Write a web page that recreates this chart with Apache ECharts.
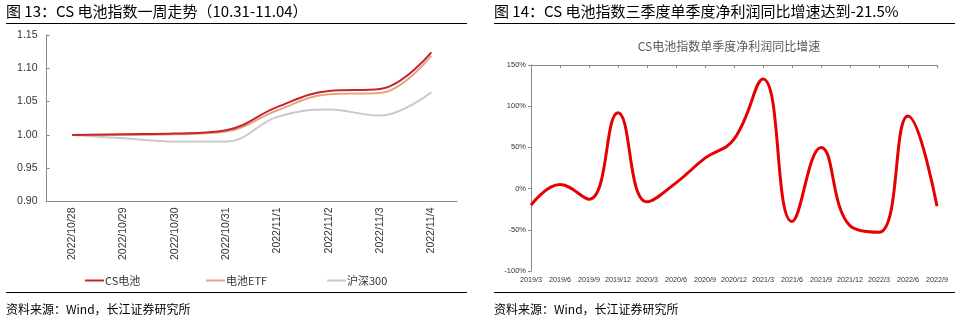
<!DOCTYPE html>
<html><head><meta charset="utf-8">
<script src="https://cdn.jsdelivr.net/npm/echarts@6/dist/echarts.min.js"></script>
<style>html,body{margin:0;padding:0;background:#fff}#c{width:962px;height:331px}</style>
</head><body><div id="c"></div>
<script>
// Chart 1 data
const dates = ['2022/10/28','2022/10/29','2022/10/30','2022/10/31','2022/11/1','2022/11/2','2022/11/3','2022/11/4'];
const csBattery = [1.000, 1.001, 1.002, 1.007, 1.042, 1.066, 1.069, 1.124];
const batteryETF = [1.000, 1.000, 1.001, 1.005, 1.037, 1.061, 1.063, 1.119];
const hs300 = [1.000, 0.995, 0.990, 0.990, 1.027, 1.038, 1.029, 1.064];
const yTicks1 = {min: 0.90, max: 1.15, interval: 0.05};

// Chart 2 data
const quarters = ['2019/3','2019/6','2019/9','2019/12','2020/3','2020/6','2020/9','2020/12','2021/3','2021/6','2021/9','2021/12','2022/3','2022/6','2022/9'];
const profitYoY = [-20, 5, -13, 92, -16, 7, 37, 60, 133, -40, 50, -45, -53, 88, -21.5];
const yTicks2 = {min: -100, max: 150, interval: 50};

const title1 = '图 13：CS 电池指数一周走势（10.31-11.04）';
const title2 = '图 14：CS 电池指数三季度单季度净利润同比增速达到-21.5%';
const innerTitle2 = 'CS电池指数单季度净利润同比增速';
const source = '资料来源：Wind，长江证券研究所';

const chart = echarts.init(document.getElementById('c'));
const cjk = '"Noto Sans CJK SC", "Liberation Sans", sans-serif';
const lab = '"Liberation Sans", "Noto Sans CJK SC", sans-serif';
const axisGray = '#898989';

chart.setOption({
  animation: false,
  textStyle: {fontFamily: lab},
  title: [{
    text: innerTitle2, left: 724, top: 35, textAlign: 'center',
    textStyle: {fontSize: 12, fontWeight: 'normal', color: '#595959', fontFamily: cjk}
  }],
  graphic: [
    {type: 'text', left: 6, top: 4, style: {text: title1, font: '15px ' + cjk, fill: '#000'}},
    {type: 'text', left: 494, top: 4, style: {text: title2, font: '15px ' + cjk, fill: '#000'}},
    {type: 'line', shape: {x1: 6, y1: 23.5, x2: 467, y2: 23.5}, style: {stroke: '#000', lineWidth: 1}},
    {type: 'line', shape: {x1: 494, y1: 23.5, x2: 955, y2: 23.5}, style: {stroke: '#000', lineWidth: 1}},
    {type: 'line', shape: {x1: 6, y1: 292.5, x2: 467, y2: 292.5}, style: {stroke: '#000', lineWidth: 1}},
    {type: 'line', shape: {x1: 494, y1: 292.5, x2: 955, y2: 292.5}, style: {stroke: '#000', lineWidth: 1}},
    {type: 'text', left: 6, top: 303, style: {text: source, font: '12px ' + cjk, fill: '#000'}},
    {type: 'text', left: 494, top: 303, style: {text: source, font: '12px ' + cjk, fill: '#000'}}
  ],
  legend: [
    {data: ['CS电池'], left: 80, top: 270, itemWidth: 19, itemHeight: 2, icon: 'rect', itemGap: 0,
     textStyle: {fontSize: 11, color: '#333', fontFamily: cjk, padding: [0,0,0,-4]}},
    {data: ['电池ETF'], left: 201, top: 270, itemWidth: 19, itemHeight: 2, icon: 'rect',
     textStyle: {fontSize: 11, color: '#333', fontFamily: cjk, padding: [0,0,0,-4]}},
    {data: ['沪深300'], left: 322, top: 270, itemWidth: 19, itemHeight: 2, icon: 'rect',
     textStyle: {fontSize: 11, color: '#333', fontFamily: cjk, padding: [0,0,0,-4]}}
  ],
  grid: [
    {left: 46.5, right: 505, top: 35, bottom: 129.5},
    {left: 531, right: 25, top: 65, bottom: 60}
  ],
  xAxis: [
    {type: 'category', gridIndex: 0, data: dates, boundaryGap: true,
     axisLine: {lineStyle: {color: axisGray}},
     axisTick: {inside: true, length: 3, lineStyle: {color: axisGray}},
     axisLabel: {rotate: 90, fontSize: 10.5, color: '#333', margin: 6}},
    {type: 'category', gridIndex: 1, data: quarters, boundaryGap: false, position: 'bottom',
     axisLine: {show: false}, axisTick: {show: false},
     axisLabel: {fontSize: 7.2, color: '#333', margin: 5, interval: 0}},
    {type: 'category', gridIndex: 1, data: quarters, boundaryGap: false,
     axisLine: {onZero: true, lineStyle: {color: axisGray, width: 1}},
     axisTick: {inside: true, length: 3, lineStyle: {color: axisGray}, interval: 0},
     axisLabel: {show: false}}
  ],
  yAxis: [
    {type: 'value', gridIndex: 0, min: yTicks1.min, max: yTicks1.max, interval: yTicks1.interval,
     axisLine: {show: true, lineStyle: {color: axisGray}},
     axisTick: {show: true, inside: true, length: 3, lineStyle: {color: axisGray}},
     splitLine: {show: false},
     axisLabel: {fontSize: 10.5, color: '#333', margin: 9, formatter: v => v.toFixed(2)}},
    {type: 'value', gridIndex: 1, min: yTicks2.min, max: yTicks2.max, interval: yTicks2.interval,
     axisLine: {show: true, lineStyle: {color: axisGray}},
     axisTick: {show: true, length: 3, lineStyle: {color: axisGray}},
     splitLine: {show: false},
     axisLabel: {fontSize: 7.5, color: '#333', margin: 5, formatter: '{value}%'}}
  ],
  series: [
    {name: '沪深300', type: 'line', xAxisIndex: 0, yAxisIndex: 0, data: hs300, smooth: 0.4,
     showSymbol: false, lineStyle: {color: '#C9C9C9', width: 2}, itemStyle: {color: '#C9C9C9'}},
    {name: '电池ETF', type: 'line', xAxisIndex: 0, yAxisIndex: 0, data: batteryETF, smooth: 0.4,
     showSymbol: false, lineStyle: {color: '#E2A585', width: 2}, itemStyle: {color: '#E2A585'}},
    {name: 'CS电池', type: 'line', xAxisIndex: 0, yAxisIndex: 0, data: csBattery, smooth: 0.4,
     showSymbol: false, lineStyle: {color: '#C4262C', width: 2}, itemStyle: {color: '#C4262C'}},
    {name: '净利润同比', type: 'line', xAxisIndex: 1, yAxisIndex: 1, data: profitYoY, smooth: 0.45,
     showSymbol: false, lineStyle: {color: '#E60000', width: 3}}
  ]
});
</script></body></html>
